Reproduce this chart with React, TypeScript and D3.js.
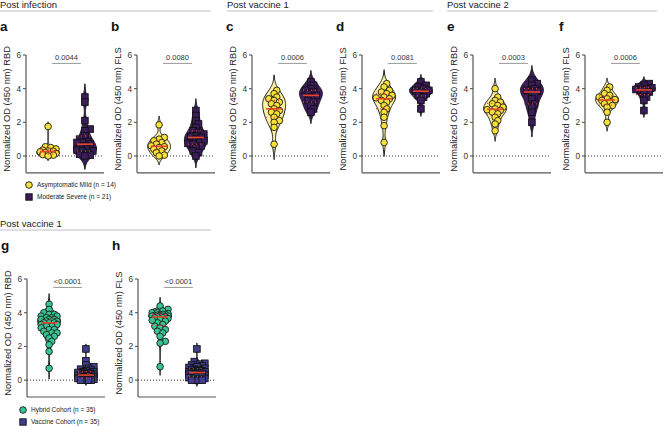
import React from 'react';
import * as d3 from 'd3';

// Post infection (normalized OD 450 nm)
const infRbdMild = [1.75, 0.55, 0.5, 0.42, 0.35, 0.3, 0.28, 0.25, 0.2, 0.15, 0.1, 0.08, 0.05, 0.0];
const infRbdSevere = [3.5, 3.2, 2.1, 1.6, 1.5, 1.2, 1.0, 0.85, 0.8, 0.8, 0.7, 0.6, 0.5, 0.4, 0.35, 0.3, 0.3, 0.2, 0.1, 0.05, 0.0];
const infFlsMild = [1.85, 1.1, 1.0, 0.9, 0.8, 0.7, 0.6, 0.55, 0.5, 0.4, 0.3, 0.2, 0.05, 0.0];
const infFlsSevere = [2.7, 2.4, 2.1, 1.9, 1.7, 1.5, 1.4, 1.3, 1.2, 1.15, 1.1, 1.0, 0.9, 0.8, 0.75, 0.7, 0.6, 0.5, 0.3, 0.2, 0.0];

// Post vaccine 1
const v1RbdMild = [3.9, 3.7, 3.5, 3.4, 3.3, 3.2, 3.1, 3.0, 2.8, 2.7, 2.6, 2.5, 2.3, 2.1, 2.0, 1.7, 0.7];
const v1RbdSevere = [4.4, 4.2, 4.0, 3.9, 3.8, 3.7, 3.6, 3.5, 3.3, 3.2, 3.0, 2.8, 2.6];
const v1FlsMild = [4.3, 4.1, 3.9, 3.8, 3.7, 3.6, 3.5, 3.45, 3.4, 3.3, 3.2, 3.0, 2.8, 2.6, 2.3, 1.8, 0.8];
const v1FlsSevere = [4.4, 4.2, 4.1, 4.0, 3.9, 3.9, 3.8, 3.7, 3.6, 3.5, 3.3, 2.8];

// Post vaccine 2
const v2RbdMild = [4.0, 3.5, 3.3, 3.2, 3.1, 3.0, 2.9, 2.8, 2.75, 2.7, 2.6, 2.5, 2.3, 2.1, 1.9, 1.5];
const v2RbdSevere = [4.5, 4.3, 4.2, 4.0, 3.9, 3.85, 3.8, 3.6, 3.4, 3.1, 2.9, 2.6, 2.0];
const v2FlsMild = [4.1, 3.9, 3.7, 3.6, 3.5, 3.4, 3.35, 3.3, 3.2, 3.1, 3.0, 2.9, 2.6, 2.0];
const v2FlsSevere = [4.3, 4.2, 4.1, 4.05, 4.0, 3.95, 3.9, 3.8, 3.7, 3.5, 3.3, 2.7];

// Post vaccine 1, hybrid vs vaccine cohort
const hybRbd = [4.5, 4.2, 4.0, 3.9, 3.9, 3.8, 3.8, 3.7, 3.7, 3.6, 3.6, 3.6, 3.5, 3.5, 3.5, 3.4, 3.4, 3.4, 3.3, 3.3, 3.2, 3.2, 3.1, 3.0, 3.0, 2.9, 2.8, 2.8, 2.7, 2.6, 2.5, 2.3, 2.1, 1.7, 0.7];
const vacRbd = [1.85, 1.15, 0.9, 0.8, 0.7, 0.65, 0.6, 0.55, 0.5, 0.5, 0.45, 0.45, 0.4, 0.4, 0.4, 0.35, 0.35, 0.3, 0.3, 0.3, 0.25, 0.25, 0.2, 0.2, 0.15, 0.15, 0.1, 0.1, 0.1, 0.05, 0.05, 0.0, 0.0, 0.0, 0.0];
const hybFls = [4.4, 4.2, 4.1, 4.05, 4.0, 4.0, 3.95, 3.9, 3.9, 3.9, 3.85, 3.85, 3.8, 3.8, 3.8, 3.8, 3.75, 3.75, 3.7, 3.7, 3.65, 3.6, 3.5, 3.4, 3.3, 3.2, 3.1, 3.0, 2.9, 2.8, 2.6, 2.3, 2.2, 0.8, 3.55];
const vacFls = [1.85, 1.1, 1.0, 0.95, 0.9, 0.85, 0.8, 0.75, 0.7, 0.65, 0.6, 0.6, 0.55, 0.55, 0.5, 0.5, 0.5, 0.45, 0.45, 0.4, 0.4, 0.35, 0.35, 0.3, 0.3, 0.25, 0.2, 0.2, 0.15, 0.1, 0.1, 0.05, 0.0, 0.0, 0.0];

const pValues = ['0.0044', '0.0080', '0.0006', '0.0081', '0.0003', '0.0006', '<0.0001', '<0.0001'];
const yTicks = [0, 2, 4, 6];
const severityNames = ['Asymptomatic Mild (n = 14)', 'Moderate Severe (n = 21)'];
const cohortNames = ['Hybrid Cohort (n = 35)', 'Vaccine Cohort (n = 35)'];
const sectionTitles = ['Post infection', 'Post vaccine 1', 'Post vaccine 2', 'Post vaccine 1'];

const W = 667;
const H = 426;
const FONT = '"Liberation Sans", Arial, Helvetica, sans-serif';
const RED = '#e8432d';

const styles = {
  yellow: { fill: '#f8e03a', violin: '#fcf1a6', shape: 'circle' },
  purple: { fill: '#3b1c5c', violin: '#3b1c5c', shape: 'square' },
  green: { fill: '#38c596', violin: '#aee8cf', shape: 'circle' },
  blue: { fill: '#3f3f8f', violin: '#3f3f8f', shape: 'square' },
};

const gauss = (u: number) => Math.exp(-0.5 * u * u) / Math.sqrt(2 * Math.PI);

function violinPath(values: number[], y: d3.ScaleLinear<number, number>, cx: number) {
  const sorted = values.slice().sort(d3.ascending);
  const sd = d3.deviation(sorted) || 0.3;
  const iqr = (d3.quantile(sorted, 0.75) || 0) - (d3.quantile(sorted, 0.25) || 0);
  const h = 0.9 * Math.min(sd, iqr > 0 ? iqr / 1.34 : sd) * Math.pow(sorted.length, -0.2);
  const lo = sorted[0] - 2.4 * h;
  const hi = sorted[sorted.length - 1] + 2.4 * h;
  const grid = d3.range(81).map(i => lo + ((hi - lo) * i) / 80);
  const dens = grid.map(v => ({ v, d: d3.mean(sorted, x => gauss((v - x) / h)) || 0 }));
  const w = d3.scaleLinear().domain([0, d3.max(dens, d => d.d) || 1]).range([0, 11.5]);
  const area = d3.area<{ v: number; d: number }>()
    .curve(d3.curveCatmullRom)
    .y(d => y(d.v))
    .x0(d => cx - w(d.d))
    .x1(d => cx + w(d.d));
  return area(dens) || '';
}

// simple beeswarm: push each point sideways until it overlaps little enough
function dodge(values: number[], y: d3.ScaleLinear<number, number>, r: number) {
  const order = d3.range(values.length).sort((a, b) => values[a] - values[b]);
  const placed: { x: number; y: number }[] = [];
  const out: number[] = new Array(values.length).fill(0);
  const step = r * 0.8;
  const minD = r * 1.25;
  order.forEach(i => {
    const py = y(values[i]);
    let best = 0;
    let bestScore = -1;
    for (let k = 0; k < 7; k++) {
      const off = k === 0 ? 0 : (k % 2 ? 1 : -1) * Math.ceil(k / 2) * step;
      const dmin = placed.length
        ? d3.min(placed, p => Math.hypot(p.x - off, p.y - py)) || 0
        : 99;
      if (dmin >= minD) { best = off; bestScore = 99; break; }
      if (dmin > bestScore) { bestScore = dmin; best = off; }
    }
    placed.push({ x: best, y: py });
    out[i] = best;
  });
  return out;
}

type Group = { values: number[]; style: { fill: string; violin: string; shape: string } };

const Panel = ({ axisX, y, groups, p, measure, letter, letterY }: {
  axisX: number; y: d3.ScaleLinear<number, number>; groups: Group[]; p: string;
  measure: string; letter: string; letterY: number;
}) => {
  const x = d3.scalePoint<string>().domain(['0', '1']).range([axisX, axisX + 81]).padding(0.6);
  const y0 = y(-1);
  const y6 = y(6);
  const labelY = (y6 + y0) / 2 - 5;
  const c0 = x('0') || 0;
  const c1 = x('1') || 0;
  return (
    <g>
      <text x={axisX - 26} y={letterY} fontSize={13.5} fontWeight="bold" fill="#111">{letter}</text>
      {/* axes */}
      <line x1={axisX} x2={axisX} y1={y6} y2={y0} stroke="#555" strokeWidth={1.2} />
      <line x1={axisX} x2={axisX + 78} y1={y0} y2={y0} stroke="#555" strokeWidth={1.2} />
      {yTicks.map(t => (
        <g key={t}>
          <line x1={axisX - 3} x2={axisX} y1={y(t)} y2={y(t)} stroke="#555" strokeWidth={1.1} />
          <text x={axisX - 5} y={y(t)} dy="0.35em" textAnchor="end" fontSize={8.3} fill="#333">{t}</text>
        </g>
      ))}
      <line x1={axisX} x2={axisX + 78} y1={y(0)} y2={y(0)} stroke="#333" strokeWidth={1} strokeDasharray="1,2" />
      <text transform={`translate(${axisX - 16},${labelY}) rotate(-90)`} textAnchor="middle" fontSize={9.3} fill="#222">
        {`Normalized OD (450 nm) ${measure}`}
      </text>
      {/* significance bracket */}
      <line x1={c0 + 4} x2={c1 - 4} y1={y(5.5)} y2={y(5.5)} stroke="#999" strokeWidth={1} />
      <text x={(c0 + c1) / 2} y={y(5.5) - 3} textAnchor="middle" fontSize={7.5} fill="#333">{p}</text>
      {groups.map((g, gi) => {
        const cx = gi === 0 ? c0 : c1;
        const r = 3.3;
        const offs = dodge(g.values, y, r);
        const sorted = g.values.slice().sort(d3.ascending);
        const med = d3.median(sorted) || 0;
        const q1 = d3.quantile(sorted, 0.25) || 0;
        const q3 = d3.quantile(sorted, 0.75) || 0;
        return (
          <g key={gi}>
            <path d={violinPath(g.values, y, cx)} fill={g.style.violin} stroke="#1a1a1a" strokeWidth={1} />
            {g.values.map((v, i) =>
              g.style.shape === 'circle' ? (
                <circle key={i} cx={cx + offs[i]} cy={y(v)} r={r} fill={g.style.fill} stroke="#1a1a1a" strokeWidth={0.9} />
              ) : (
                <rect key={i} x={cx + offs[i] - r} y={y(v) - r} width={2 * r} height={2 * r} fill={g.style.fill} stroke="#111" strokeWidth={0.9} />
              )
            )}
            <line x1={cx - 8} x2={cx + 8} y1={y(med)} y2={y(med)} stroke={RED} strokeWidth={1.6} />
            {[q1, q3].map((q, k) => (
              <line key={k} x1={cx - 8} x2={cx + 8} y1={y(q)} y2={y(q)} stroke={RED} strokeWidth={1.2} strokeDasharray="1,3" />
            ))}
          </g>
        );
      })}
    </g>
  );
};

const Legend = ({ x, y, names, a, b }: { x: number; y: number; names: string[]; a: Group['style']; b: Group['style'] }) => (
  <g fontSize={6.5} fill="#222">
    <circle cx={x} cy={y} r={3.3} fill={a.fill} stroke="#1a1a1a" strokeWidth={0.9} />
    <text x={x + 8} y={y} dy="0.35em">{names[0]}</text>
    <rect x={x - 3.2} y={y + 12 - 3.2} width={6.4} height={6.4} fill={b.fill} stroke="#111" strokeWidth={0.9} />
    <text x={x + 8} y={y + 12} dy="0.35em">{names[1]}</text>
  </g>
);

const Section = ({ x, y, w, title }: { x: number; y: number; w: number; title: string }) => (
  <g>
    <text x={x} y={y} fontSize={9.5} fill="#222">{title}</text>
    <line x1={x} x2={x + w} y1={y + 3} y2={y + 3} stroke="#b0b0b0" strokeWidth={0.8} />
  </g>
);

export default function App() {
  const yTop = d3.scaleLinear().domain([-1, 6]).range([172.8, 55]);
  const yBot = d3.scaleLinear().domain([-1, 6]).range([397, 279]);
  const Y = styles.yellow, P = styles.purple, G = styles.green, B = styles.blue;
  return (
    <div style={{ position: 'fixed', left: 0, top: 0 }}>
      <svg width={W} height={H} fontFamily={FONT} style={{ display: 'block', background: '#fff' }}>
        <Section x={0} y={8} w={211} title={sectionTitles[0]} />
        <Section x={227} y={8} w={206} title={sectionTitles[1]} />
        <Section x={447} y={8} w={210} title={sectionTitles[2]} />
        <Section x={0} y={227} w={211} title={sectionTitles[3]} />

        <Panel axisX={26} y={yTop} p={pValues[0]} measure="RBD" letter="a" letterY={31}
          groups={[{ values: infRbdMild, style: Y }, { values: infRbdSevere, style: P }]} />
        <Panel axisX={137} y={yTop} p={pValues[1]} measure="FLS" letter="b" letterY={31}
          groups={[{ values: infFlsMild, style: Y }, { values: infFlsSevere, style: P }]} />
        <Panel axisX={252} y={yTop} p={pValues[2]} measure="RBD" letter="c" letterY={31}
          groups={[{ values: v1RbdMild, style: Y }, { values: v1RbdSevere, style: P }]} />
        <Panel axisX={362} y={yTop} p={pValues[3]} measure="FLS" letter="d" letterY={31}
          groups={[{ values: v1FlsMild, style: Y }, { values: v1FlsSevere, style: P }]} />
        <Panel axisX={473} y={yTop} p={pValues[4]} measure="RBD" letter="e" letterY={31}
          groups={[{ values: v2RbdMild, style: Y }, { values: v2RbdSevere, style: P }]} />
        <Panel axisX={585} y={yTop} p={pValues[5]} measure="FLS" letter="f" letterY={31}
          groups={[{ values: v2FlsMild, style: Y }, { values: v2FlsSevere, style: P }]} />

        <Panel axisX={27} y={yBot} p={pValues[6]} measure="RBD" letter="g" letterY={250}
          groups={[{ values: hybRbd, style: G }, { values: vacRbd, style: B }]} />
        <Panel axisX={138} y={yBot} p={pValues[7]} measure="FLS" letter="h" letterY={250}
          groups={[{ values: hybFls, style: G }, { values: vacFls, style: B }]} />

        <Legend x={29} y={185} names={severityNames} a={Y} b={P} />
        <Legend x={23} y={410} names={cohortNames} a={G} b={B} />
      </svg>
    </div>
  );
}
